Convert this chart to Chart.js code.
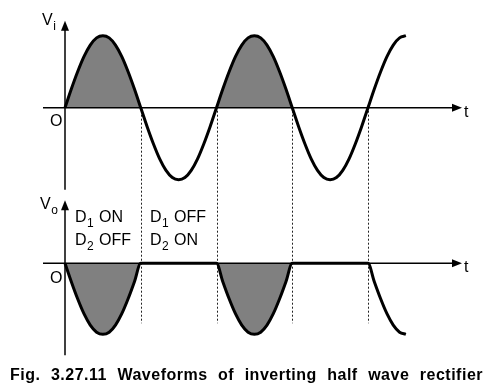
<!DOCTYPE html>
<html><head><meta charset="utf-8">
<script src="https://cdn.jsdelivr.net/npm/chart.js@4"></script>
<style>html,body{margin:0;padding:0;background:#fff}#wrap{width:504px;height:392px;position:relative}</style>
</head><body><div id="wrap"><canvas id="c" width="504" height="392"></canvas></div>
<script>
// phase angle of the input (degrees), one sample every 15 degrees
const phaseDeg = [0,15,30,45,60,75,90,105,120,135,150,165,180,195,210,225,240,255,270,285,300,315,330,345,360,
  375,390,405,420,435,450,465,480,495,510,525,540,555,570,585,600,615,630,645,660,675,690,705,720,
  735,750,765,780,795,810];
// input voltage Vi (normalised to peak)
const viValues = [0,0.26,0.5,0.71,0.87,0.97,1,0.97,0.87,0.71,0.5,0.26,0,-0.26,-0.5,-0.71,-0.87,-0.97,-1,-0.97,-0.87,-0.71,-0.5,-0.26,0,
  0.26,0.5,0.71,0.87,0.97,1,0.97,0.87,0.71,0.5,0.26,0,-0.26,-0.5,-0.71,-0.87,-0.97,-1,-0.97,-0.87,-0.71,-0.5,-0.26,0,
  0.26,0.5,0.71,0.87,0.97,1];
// output voltage Vo (inverted half wave)
const voValues = [0,-0.26,-0.5,-0.71,-0.87,-0.97,-1,-0.97,-0.87,-0.71,-0.5,-0.26,0,0,0,0,0,0,0,0,0,0,0,0,0,
  -0.26,-0.5,-0.71,-0.87,-0.97,-1,-0.97,-0.87,-0.71,-0.5,-0.26,0,0,0,0,0,0,0,0,0,0,0,0,0,
  -0.26,-0.5,-0.71,-0.87,-0.97,-1];
// shaded half cycles (degrees)
const shadedHalfCycles = [[0,180],[360,540]];
// dotted boundaries between conduction intervals (degrees)
const boundaryDeg = [180,360,540,720];
// diode state labels
const stateLabels = [
  [{b:"D",s:"1",r:"ON"},{b:"D",s:"2",r:"OFF"}],
  [{b:"D",s:"1",r:"OFF"},{b:"D",s:"2",r:"ON"}]
];
const captionText = "Fig. 3.27.11 Waveforms of inverting half wave rectifier";

const FILL = "#808080";
const FONT = '"Liberation Sans", Arial, Helvetica, sans-serif';

function pts(vals, lo, hi){
  const out = [];
  phaseDeg.forEach((p,i)=>{ if(p>=lo && p<=hi) out.push({x:p,y:vals[i]}); });
  return out;
}
const datasets = [];
shadedHalfCycles.forEach(([lo,hi])=>{
  datasets.push({data:pts(viValues,lo,hi),yAxisID:'yTop',borderWidth:0,backgroundColor:FILL,fill:{value:0},order:3});
  datasets.push({data:pts(voValues,lo,hi),yAxisID:'yBot',borderWidth:0,backgroundColor:FILL,fill:{value:0},order:3});
});
datasets.push({data:pts(viValues,-1,9999),yAxisID:'yTop',borderColor:'#000',borderWidth:3,fill:false,order:1});
datasets.push({data:pts(voValues,-1,9999),yAxisID:'yBot',borderColor:'#000',borderWidth:3,fill:false,order:1});

// pixel geometry: 0 deg at x=65, 720 deg at x=368; top zero at y=107.7 (72px/unit), bottom zero at 263.3 (71px/unit)
const pxPerDeg = 303/720;
const W = 504, H = 392;

function arrow(ctx, x, y, dir){
  ctx.beginPath();
  if(dir==='up'){ ctx.moveTo(x,y); ctx.lineTo(x-4,y+10); ctx.lineTo(x+4,y+10); }
  else { ctx.moveTo(x,y); ctx.lineTo(x-10,y-4); ctx.lineTo(x-10,y+4); }
  ctx.closePath(); ctx.fill();
}
function subText(ctx, x, y, b, s, r, size, gap){
  ctx.font = size+'px '+FONT;
  ctx.fillText(b, x, y);
  const wb = ctx.measureText(b).width;
  ctx.font = (size*0.75).toFixed(1)+'px '+FONT;
  ctx.fillText(s, x+wb+0.5, y+5);
  if(r){ ctx.font = size+'px '+FONT; ctx.fillText(r, x+gap, y); }
}

const deco = {
  id:'deco',
  beforeDatasetsDraw(chart){
    const ctx = chart.ctx, xs = chart.scales.x, yt = chart.scales.yTop, yb = chart.scales.yBot;
    const t0 = yt.getPixelForValue(0), b0 = yb.getPixelForValue(0);
    ctx.save();
    ctx.strokeStyle = '#222'; ctx.lineWidth = 1; ctx.setLineDash([2,2]);
    boundaryDeg.forEach(d=>{
      const x = Math.round(xs.getPixelForValue(d))+0.5;
      ctx.beginPath(); ctx.moveTo(x, t0+3); ctx.lineTo(x, b0+60); ctx.stroke();
    });
    ctx.restore();
  },
  afterDatasetsDraw(chart){
    const ctx = chart.ctx, xs = chart.scales.x, yt = chart.scales.yTop, yb = chart.scales.yBot;
    const x0 = xs.getPixelForValue(0);
    const t0 = yt.getPixelForValue(0), b0 = yb.getPixelForValue(0);
    ctx.save();
    ctx.strokeStyle = '#000'; ctx.fillStyle = '#000'; ctx.lineWidth = 1.5;
    // horizontal axes
    [t0,b0].forEach(y=>{
      ctx.beginPath(); ctx.moveTo(x0-22,y); ctx.lineTo(x0+390,y); ctx.stroke();
      arrow(ctx, x0+397, y, 'right');
    });
    // vertical axes
    ctx.beginPath(); ctx.moveTo(x0,t0+82); ctx.lineTo(x0,t0-80); ctx.stroke();
    arrow(ctx, x0, t0-87, 'up');
    ctx.beginPath(); ctx.moveTo(x0,b0+92); ctx.lineTo(x0,b0-56); ctx.stroke();
    arrow(ctx, x0, b0-63, 'up');
    // labels
    ctx.textBaseline = 'alphabetic'; ctx.textAlign = 'left';
    subText(ctx, x0-23, t0-83, 'V', 'i', null, 16);
    subText(ctx, x0-25, b0-54, 'V', 'o', null, 16);
    ctx.font = '16px '+FONT;
    ctx.fillText('O', x0-15, t0+18);
    ctx.fillText('O', x0-15, b0+20);
    ctx.fillText('t', x0+399, t0+9);
    ctx.fillText('t', x0+399, b0+9);
    const colX = [x0+10, x0+85];
    stateLabels.forEach((col,ci)=>{
      col.forEach((lab,ri)=>{
        subText(ctx, colX[ci], b0-41+ri*23, lab.b, lab.s, lab.r, 16, 24);
      });
    });
    // caption: bold 16px with slight letter spacing; word spacing tuned so it spans x 10..483
    const target = 473;
    ctx.font = 'bold 16px '+FONT;
    const hasLS = 'letterSpacing' in ctx, hasWS = 'wordSpacing' in ctx;
    if(hasLS) ctx.letterSpacing = '0.5px';
    if(hasWS) ctx.wordSpacing = '0px';
    const w1 = ctx.measureText(captionText).width;
    const nSpaces = captionText.split(' ').length - 1;
    if(hasWS){
      let ws = Math.max(0,(target - w1)/nSpaces);
      ctx.wordSpacing = ws.toFixed(2)+'px';
      const w2 = ctx.measureText(captionText).width;
      ws = Math.max(0, ws - (w2 - target)/nSpaces);
      ctx.wordSpacing = ws.toFixed(2)+'px';
    }
    ctx.fillText(captionText, 10, 380);
    ctx.restore();
  }
};

new Chart(document.getElementById('c'), {
  type:'line',
  data:{datasets},
  options:{
    responsive:false, animation:false, devicePixelRatio:1,
    layout:{padding:0},
    elements:{point:{radius:0}, line:{cubicInterpolationMode:'monotone'}},
    plugins:{legend:{display:false}, tooltip:{enabled:false}, title:{display:false}},
    scales:{
      x:{type:'linear', display:false, min:-65/pxPerDeg, max:(W-65)/pxPerDeg},
      yTop:{type:'linear', display:false, min:-(H-107.7)/72, max:107.7/72},
      yBot:{type:'linear', display:false, min:-(H-263.3)/71, max:263.3/71}
    }
  },
  plugins:[deco]
});
</script>
</body></html>
